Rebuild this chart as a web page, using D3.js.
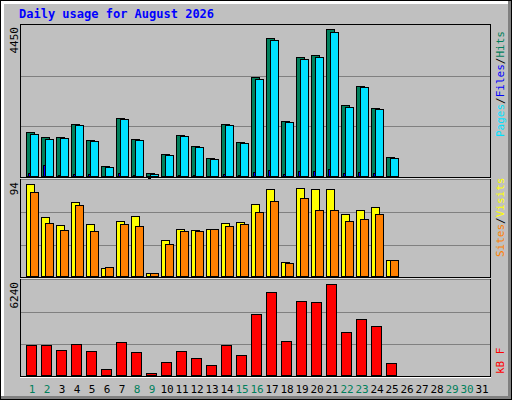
<!DOCTYPE html>
<html><head><meta charset="utf-8">
<script src="https://cdn.jsdelivr.net/npm/d3@7"></script>
<style>body{margin:0;background:#fff}</style>
</head><body>
<svg id="chart" width="512" height="400"></svg>
<script>
let days = d3.range(1, 32);
let weekend = [1,2,8,9,15,16,22,23,29,30];
let hits  = [1356,1208,1208,1591,1120,324,1768,1149,118,678,1267,943,560,1591,1061,3006,4185,1680,3595,3654,4450,2151,2741,2063,589];
let files = [1300,1150,1180,1560,1090,300,1730,1120,90,650,1240,900,540,1560,1030,2950,4120,1640,3540,3600,4360,2110,2700,2030,570];
let pages = [120,360,60,90,80,30,110,60,10,30,70,50,40,80,50,160,220,80,180,170,230,110,140,110,30];
let visits = [94,61,53,76,54,9,57,62,4,37,49,48,49,55,56,74,89,15,90,89,89,64,68,71,17];
let sites  = [86,55,48,73,47,10,54,52,4,33,47,46,49,52,54,66,77,14,80,68,68,57,59,64,17];
let kbytes = [2102,2102,1774,2168,1708,460,2300,1643,197,920,1708,1248,723,2102,1445,4205,5716,2365,5059,4993,6240,2957,3876,3416,854];
let maxLabels = ["4450", "94", "6240"];

let svg = d3.select('#chart');
let font = "'DejaVu Sans Mono', monospace";

// frame
svg.append('rect').attr('x',0).attr('y',0).attr('width',512).attr('height',400).attr('fill','#000');
svg.append('rect').attr('x',1).attr('y',1).attr('width',510).attr('height',398).attr('fill','#808080');
svg.append('rect').attr('x',1).attr('y',1).attr('width',507).attr('height',395).attr('fill','#fff');
svg.append('rect').attr('x',4).attr('y',4).attr('width',504).attr('height',392).attr('fill','#c0c0c0');

svg.append('text').attr('x',19).attr('y',18).text('Daily usage for August 2026')
   .attr('font-family',font).attr('font-weight','bold').attr('font-size',12).attr('fill','#0000ff');

let x = d3.scaleBand().domain(days).range([26, 491]).paddingInner(0);

let panels = [
  {top:25, bottom:177, max:4450},
  {top:180, bottom:277, max:94},
  {top:280, bottom:376, max:6240}
];

panels.forEach((p, i) => {
  // white/black border
  svg.append('rect').attr('x',20.5).attr('y',p.top-0.5).attr('width',470).attr('height',p.bottom-p.top+1)
     .attr('fill','none').attr('stroke','#000');
  let y = d3.scaleLinear().domain([0, p.max]).range([p.bottom, p.top+4]);
  p.y = y;
  [1/3, 2/3].forEach(f => {
    let gy = Math.round(p.bottom - (p.bottom - p.top) * f) + 0.5;
    svg.append('line').attr('x1',21).attr('x2',490).attr('y1',gy).attr('y2',gy).attr('stroke','#808080');
  });
  svg.append('text').attr('transform','translate(18,' + (p.top+2) + ') rotate(-90)')
     .attr('text-anchor','end').attr('font-family',font).attr('font-size',11).text(maxLabels[i]);
});
// thick white separator lines at panel borders
svg.append('line').attr('x1',21).attr('x2',490).attr('y1',179).attr('y2',179).attr('stroke','#fff').attr('stroke-width',1);
svg.append('line').attr('x1',21).attr('x2',490).attr('y1',279).attr('y2',279).attr('stroke','#fff').attr('stroke-width',1);
svg.append('line').attr('x1',20).attr('x2',491).attr('y1',377.5).attr('y2',377.5).attr('stroke','#fff');

function bars(data, p, dx, w, color) {
  svg.append('g').selectAll('rect').data(data).enter().append('rect')
    .attr('x', (d, i) => x(i + 1) + dx + 0.5)
    .attr('y', d => Math.round(p.y(d)) + 0.5)
    .attr('width', w)
    .attr('height', d => Math.max(1, p.bottom - Math.round(p.y(d)) - 1))
    .attr('fill', color).attr('stroke', '#000');
}
bars(hits, panels[0], 0, 8, '#00805c');
bars(files, panels[0], 4, 8, '#00e0ff');
bars(pages, panels[0], 2, 2, '#0000ff');
bars(visits, panels[1], 0, 8, '#ffff00');
bars(sites, panels[1], 4, 8, '#ff8000');
bars(kbytes, panels[2], 0, 10, '#ff0000');

// day labels
svg.append('g').selectAll('text').data(days).enter().append('text')
  .attr('x', d => x(d) + 6).attr('y', 393).attr('text-anchor','middle')
  .attr('font-family',font).attr('font-size',11)
  .attr('fill', d => weekend.includes(d) ? '#00805c' : '#000').text(d => d);

// right legends
function legend(yBottom, parts) {
  let t = svg.append('text').attr('transform','translate(504,' + yBottom + ') rotate(-90)')
    .attr('font-family',font).attr('font-size',11);
  parts.forEach(pt => t.append('tspan').attr('fill', pt[1]).text(pt[0]));
}
legend(137, [['Pages','#00e0ff'],['/','#000'],['Files','#0000ff'],['/','#000'],['Hits','#00805c']]);
legend(257, [['Sites','#ff8000'],['/','#000'],['Visits','#ffff00']]);
legend(374, [['kB F','#ff0000']]);
</script>
</body></html>
